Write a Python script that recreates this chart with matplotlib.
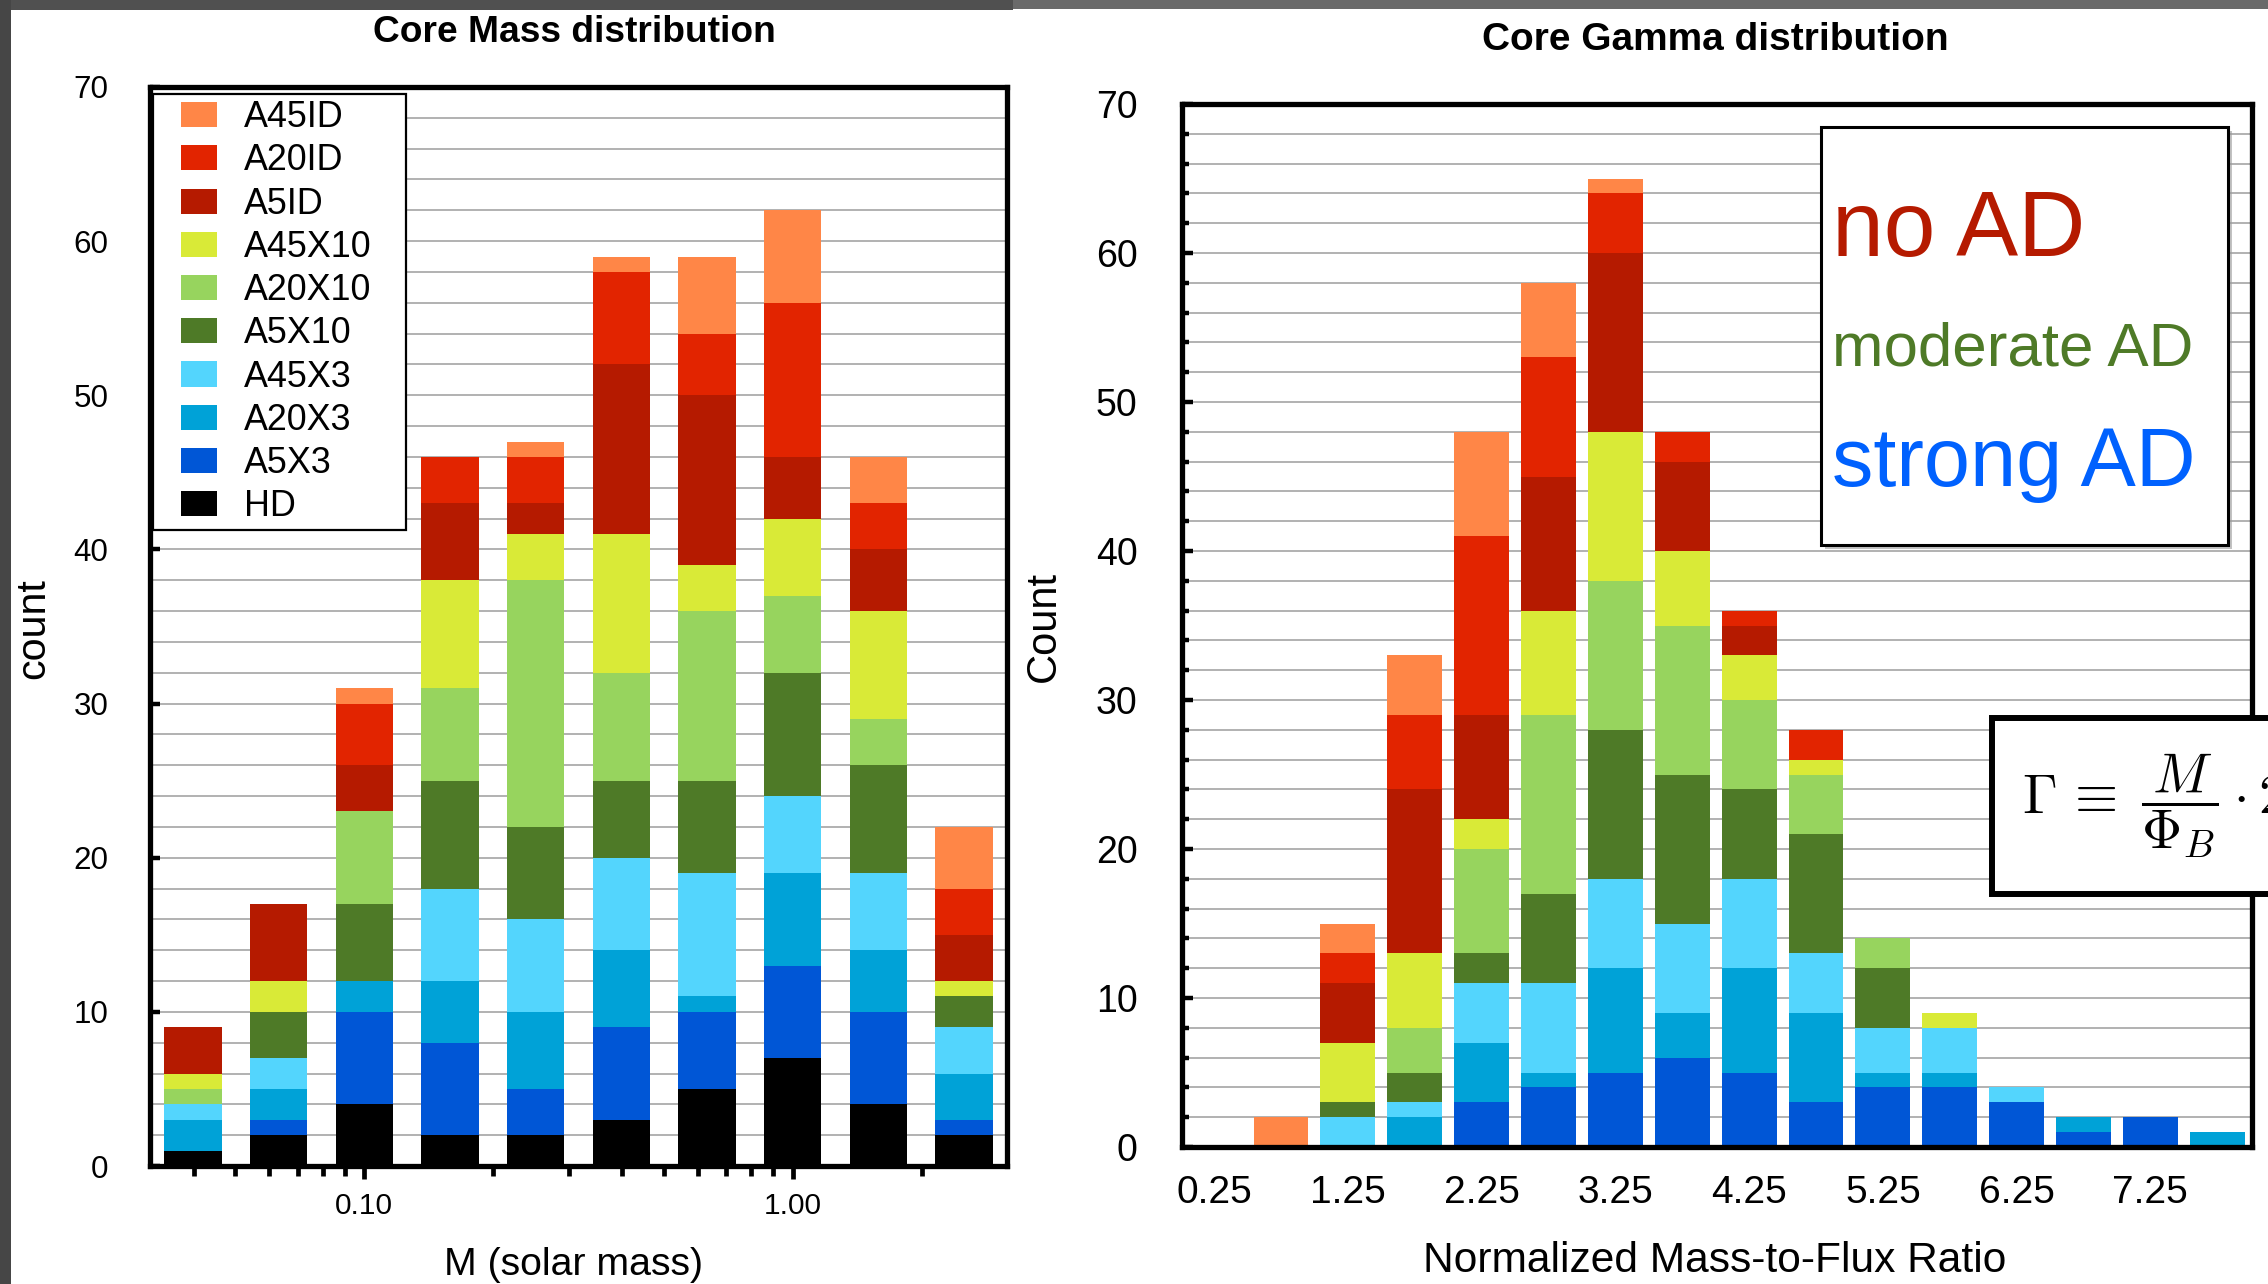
import matplotlib
matplotlib.use("Agg")
import matplotlib.pyplot as plt
from matplotlib.patches import Rectangle
from matplotlib.legend_handler import HandlerPatch
from matplotlib.ticker import FixedLocator, NullFormatter

plt.rcParams["font.family"] = ["Liberation Sans", "DejaVu Sans"]
plt.rcParams["mathtext.fontset"] = "cm"

W, H = 2268, 1284

# ---------------------------------------------------------------- data
series_names = ["HD", "A5X3", "A20X3", "A45X3", "A5X10", "A20X10",
                "A45X10", "A5ID", "A20ID", "A45ID"]
series_colors = ["#000000", "#0056D6", "#00A2D7", "#53D5FD", "#4E7A27",
                 "#97D45E", "#D9EA37", "#B51A00", "#E22400", "#FF8647"]

# core mass histogram: 0.2 dex bins, centres in log10(M / Msun)
log_mass_centers = [-1.4, -1.2, -1.0, -0.8, -0.6, -0.4, -0.2, 0.0, 0.2, 0.4]
mass_HD     = [1, 2, 4, 2, 2, 3, 5, 7, 4, 2]
mass_A5X3   = [0, 1, 6, 6, 3, 6, 5, 6, 6, 1]
mass_A20X3  = [2, 2, 2, 4, 5, 5, 1, 6, 4, 3]
mass_A45X3  = [1, 2, 0, 6, 6, 6, 8, 5, 5, 3]
mass_A5X10  = [0, 3, 5, 7, 6, 5, 6, 8, 7, 2]
mass_A20X10 = [1, 0, 6, 6, 16, 7, 11, 5, 3, 0]
mass_A45X10 = [1, 2, 0, 7, 3, 9, 3, 5, 7, 1]
mass_A5ID   = [3, 5, 3, 5, 2, 11, 11, 4, 4, 3]
mass_A20ID  = [0, 0, 4, 3, 3, 6, 4, 10, 3, 3]
mass_A45ID  = [0, 0, 1, 0, 1, 1, 5, 6, 3, 4]

# normalized mass-to-flux ratio histogram (HD cores carry no field)
gamma_centers = [0.25, 0.75, 1.25, 1.75, 2.25, 2.75, 3.25, 3.75,
                 4.25, 4.75, 5.25, 5.75, 6.25, 6.75, 7.25, 7.75]
gamma_A5X3   = [0, 0, 0, 0, 3, 4, 5, 6, 5, 3, 4, 4, 3, 1, 2, 0]
gamma_A20X3  = [0, 0, 0, 2, 4, 1, 7, 3, 7, 6, 1, 1, 0, 1, 0, 1]
gamma_A45X3  = [0, 0, 2, 1, 4, 6, 6, 6, 6, 4, 3, 3, 1, 0, 0, 0]
gamma_A5X10  = [0, 0, 1, 2, 2, 6, 10, 10, 6, 8, 4, 0, 0, 0, 0, 0]
gamma_A20X10 = [0, 0, 0, 3, 7, 12, 10, 10, 6, 4, 2, 0, 0, 0, 0, 0]
gamma_A45X10 = [0, 0, 4, 5, 2, 7, 10, 5, 3, 1, 0, 1, 0, 0, 0, 0]
gamma_A5ID   = [0, 0, 4, 11, 7, 9, 12, 6, 2, 0, 0, 0, 0, 0, 0, 0]
gamma_A20ID  = [0, 0, 2, 5, 12, 8, 4, 2, 1, 2, 0, 0, 0, 0, 0, 0]
gamma_A45ID  = [0, 2, 2, 4, 7, 5, 1, 0, 0, 0, 0, 0, 0, 0, 0, 0]

mass_ticks = [0.1, 1.0]
mass_tick_labels = ["0.10", "1.00"]
gamma_ticks = [0.25, 1.25, 2.25, 3.25, 4.25, 5.25, 6.25, 7.25]
gamma_tick_labels = ["0.25", "1.25", "2.25", "3.25", "4.25", "5.25", "6.25", "7.25"]

mass_series = [mass_HD, mass_A5X3, mass_A20X3, mass_A45X3, mass_A5X10,
               mass_A20X10, mass_A45X10, mass_A5ID, mass_A20ID, mass_A45ID]
gamma_series = [None, gamma_A5X3, gamma_A20X3, gamma_A45X3, gamma_A5X10,
                gamma_A20X10, gamma_A45X10, gamma_A5ID, gamma_A20ID, gamma_A45ID]


def fx(px):
    return px / W


def fy(py):
    return 1 - py / H


fig = plt.figure(figsize=(W / 100, H / 100), dpi=100)
fig.patch.set_facecolor("white")

# dark slide margin along the top and left edges
fig.add_artist(Rectangle((0, fy(10)), fx(1013), 10 / H, transform=fig.transFigure,
                         facecolor="#505050", edgecolor="none", zorder=0))
fig.add_artist(Rectangle((fx(1013), fy(9)), 1 - fx(1013), 9 / H, transform=fig.transFigure,
                         facecolor="#6a6a6a", edgecolor="none", zorder=0))
fig.add_artist(Rectangle((0, 0), fx(11), 1, transform=fig.transFigure,
                         facecolor="#464646", edgecolor="none", zorder=0))

SPINE_LW = 3.8
GRID_KW = dict(color="#ababab", linewidth=1.3)

# ---------------------------------------------------------------- core mass
ax1 = fig.add_axes([fx(150), fy(1166), fx(1007) - fx(150), fy(87) - fy(1166)])
ax1.set_xscale("log")
ax1.set_xlim(10 ** -1.5, 10 ** 0.5)
ax1.set_ylim(0, 70)
ax1.set_axisbelow(True)

half = 0.067
lefts = [10 ** (c - half) for c in log_mass_centers]
widths = [10 ** (c + half) - 10 ** (c - half) for c in log_mass_centers]
bottom = [0] * len(log_mass_centers)
handles = []
for name, color, vals in zip(series_names, series_colors, mass_series):
    b = ax1.bar(lefts, vals, width=widths, bottom=bottom, align="edge",
                color=color, edgecolor="none", label=name)
    handles.append(b)
    bottom = [p + v for p, v in zip(bottom, vals)]

ax1.set_yticks(range(0, 71, 10))
ax1.yaxis.set_minor_locator(FixedLocator(range(0, 71, 2)))
ax1.yaxis.grid(True, which="both", **GRID_KW)
ax1.xaxis.grid(False, which="both")
ax1.xaxis.set_major_locator(FixedLocator(mass_ticks))
ax1.set_xticklabels(mass_tick_labels)
ax1.xaxis.set_minor_locator(FixedLocator(
    [0.04, 0.05, 0.06, 0.07, 0.08, 0.09, 0.2, 0.3, 0.4, 0.5, 0.6, 0.7, 0.8, 0.9, 2.0]))
ax1.xaxis.set_minor_formatter(NullFormatter())
ax1.tick_params(axis="x", which="major", direction="out", length=9.4, width=3.4,
                pad=9, labelsize=21.4)
ax1.tick_params(axis="x", which="minor", direction="out", length=7.2, width=3.4)
ax1.tick_params(axis="y", which="major", direction="in", length=7.5, width=3.2,
                pad=30, labelsize=22.6)
ax1.tick_params(axis="y", which="minor", length=0)
for sp in ax1.spines.values():
    sp.set_linewidth(SPINE_LW)


class RightPatchHandler(HandlerPatch):
    """Legend swatch drawn as a fixed-size box at the right of the handle area."""

    def create_artists(self, legend, orig_handle, xdescent, ydescent, width,
                       height, fontsize, trans):
        pw, ph = 1.02 * fontsize, 0.70 * fontsize
        p = Rectangle((-xdescent + width - pw, -ydescent + (height - ph) / 2), pw, ph,
                      facecolor=orig_handle.patches[0].get_facecolor(),
                      edgecolor="none", transform=trans)
        return [p]


leg = ax1.legend(handles[::-1], series_names[::-1], loc="upper left",
                 bbox_to_anchor=(0.0035, 0.9935, (406 - 153) / 857, 0.0),
                 mode="expand", borderaxespad=0, fontsize=25.8, frameon=True,
                 fancybox=False, framealpha=1, edgecolor="black",
                 borderpad=0.17, labelspacing=0.23, handlelength=1.62,
                 handleheight=0.7, handletextpad=0.76,
                 handler_map={type(handles[0]): RightPatchHandler()})
leg.get_frame().set_linewidth(1.6)

fig.text(fx(574), fy(33), "Core Mass distribution", ha="center", va="center",
         fontsize=26.7, fontweight="bold")
fig.text(fx(574), fy(1265), "M (solar mass)", ha="center", va="center", fontsize=28.3)
fig.text(fx(33), fy(629), "count", ha="center", va="center", rotation=90, fontsize=29.7)

# ---------------------------------------------------------------- core gamma
ax2 = fig.add_axes([fx(1182), fy(1147), fx(2252) - fx(1182), fy(104) - fy(1147)])
ax2.set_xlim(0.01, 8.01)
ax2.set_ylim(0, 70)
ax2.set_axisbelow(True)

bottom = [0] * len(gamma_centers)
for name, color, vals in zip(series_names, series_colors, gamma_series):
    if vals is None:
        continue
    ax2.bar(gamma_centers, vals, width=0.41, bottom=bottom, color=color,
            edgecolor="none")
    bottom = [p + v for p, v in zip(bottom, vals)]

ax2.set_xticks(gamma_ticks)
ax2.set_xticklabels(gamma_tick_labels)
ax2.set_yticks(range(0, 71, 10))
ax2.yaxis.set_minor_locator(FixedLocator(range(0, 71, 2)))
ax2.yaxis.grid(True, which="both", **GRID_KW)
ax2.tick_params(axis="x", length=0, pad=20, labelsize=28)
ax2.tick_params(axis="y", which="major", direction="in", length=7.9, width=3.2,
                pad=32, labelsize=27)
ax2.tick_params(axis="y", which="minor", direction="in", length=5.0, width=3.2)
for sp in ax2.spines.values():
    sp.set_linewidth(SPINE_LW)

fig.text(fx(1715), fy(40), "Core Gamma distribution", ha="center", va="center",
         fontsize=28, fontweight="bold")
fig.text(fx(1715), fy(1261), "Normalized Mass-to-Flux Ratio", ha="center",
         va="center", fontsize=30.6)
fig.text(fx(1044), fy(626), "Count", ha="center", va="center", rotation=90,
         fontsize=30)

# AD strength key
fig.add_artist(Rectangle((fx(1825), fy(549)), fx(2232) - fx(1825), fy(131) - fy(549),
                         transform=fig.transFigure, facecolor="#9a9a9a",
                         edgecolor="none", zorder=4, alpha=0.6))
fig.add_artist(Rectangle((fx(1821), fy(545)), fx(2228) - fx(1821), fy(127) - fy(545),
                         transform=fig.transFigure, facecolor="white",
                         edgecolor="black", linewidth=2.2, zorder=5))
fig.text(fx(1832), fy(256), "no AD", color="#B51A00", fontsize=67,
         va="baseline", ha="left", zorder=6)
fig.text(fx(1832), fy(366), "moderate AD", color="#4E7A27", fontsize=44.6,
         va="baseline", ha="left", zorder=6)
fig.text(fx(1832), fy(486), "strong AD", color="#0061FE", fontsize=59.6,
         va="baseline", ha="left", zorder=6)

# mass-to-flux definition
fig.add_artist(Rectangle((fx(1992), fy(894)), fx(2400) - fx(1992), fy(718) - fy(894),
                         transform=fig.transFigure, facecolor="white",
                         edgecolor="black", linewidth=4.3, zorder=5))
fig.text(fx(2022), fy(806),
         r"$\Gamma\,\equiv\;\dfrac{M}{\Phi_B}\cdot 2\pi\sqrt{G}$",
         fontsize=40, va="center", ha="left", zorder=6)

fig.savefig("out.png", dpi=100)
